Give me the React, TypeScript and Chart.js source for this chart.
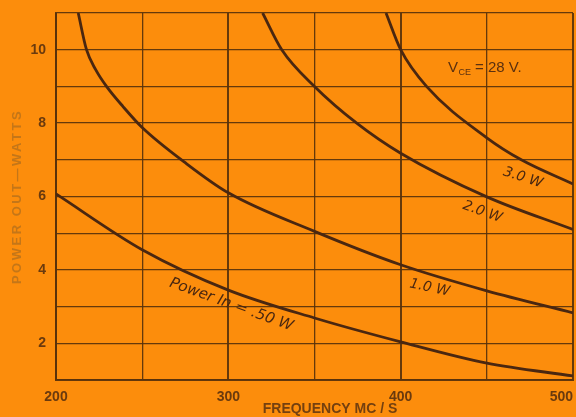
import React, { useEffect, useRef } from 'react';
import { Chart, registerables } from 'chart.js';

Chart.register(...registerables);

// ---- data ----
const freqHalf = [200, 250, 300, 350, 400, 450, 500];
const powerHalf = [6.07, 4.55, 3.45, 2.69, 2.04, 1.46, 1.11];

const freqOne = [212.9, 217.7, 223.1, 229.3, 238.9, 250, 275, 300, 350, 400, 450, 500];
const powerOne = [11, 10, 9.45, 9.0, 8.45, 7.88, 6.92, 6.1, 5.05, 4.14, 3.43, 2.83];

const freqTwo = [319.9, 331, 350, 374.5, 400, 450, 500];
const powerTwo = [11, 10, 9.0, 8.0, 7.18, 5.99, 5.1];

const freqThree = [391.5, 400, 415, 450, 470, 500];
const powerThree = [11, 10, 9.0, 7.6, 7.0, 6.34];

const xTickLabels = [200, 300, 400, 500];
const yTickLabels = [2, 4, 6, 8, 10];
const curveLabels = ['Power In = .50 W', '1.0 W', '2.0 W', '3.0 W'];
const xTitle = 'FREQUENCY MC / S';
const yTitle = 'POWER OUT\u2014WATTS';
const vceMain = 'V';
const vceSub = 'CE';
const vceRest = '= 28 V.';

// ---- styles ----
const BG = '#FC8D0C';
const GRID = 'rgba(88, 50, 12, 0.92)';
const CURVE = '#4A2710';
const TICK = '#6A3A0E';
const FADED = '#C47618';

const toPoints = (xs: number[], ys: number[]) => xs.map((x, i) => ({ x, y: ys[i] }));

const annotate = {
  id: 'annotate',
  afterDraw(chart: any) {
    const ctx = chart.ctx as CanvasRenderingContext2D;
    const xs = chart.scales.x;
    const ys = chart.scales.y;
    const area = chart.chartArea;
    ctx.save();

    // x tick labels
    ctx.fillStyle = TICK;
    ctx.font = 'bold 14px "Liberation Sans", sans-serif';
    ctx.textBaseline = 'middle';
    xTickLabels.forEach((v) => {
      const label = String(v);
      const px = xs.getPixelForValue(v);
      const w = ctx.measureText(label).width;
      if (px + w / 2 > chart.width - 1) {
        ctx.textAlign = 'right';
        ctx.fillText(label, area.right, area.bottom + 17);
      } else {
        ctx.textAlign = 'center';
        ctx.fillText(label, px, area.bottom + 17);
      }
    });

    // y tick labels
    ctx.textAlign = 'right';
    yTickLabels.forEach((v) => {
      ctx.fillText(String(v), area.left - 10, ys.getPixelForValue(v));
    });

    // x title
    ctx.textAlign = 'center';
    ctx.font = 'bold 14px "Liberation Sans", sans-serif';
    ctx.fillStyle = '#74400F';
    ctx.fillText(xTitle, xs.getPixelForValue(359), area.bottom + 29);

    // y title (rotated)
    ctx.save();
    ctx.translate(17, ys.getPixelForValue(6.0));
    ctx.rotate(-Math.PI / 2);
    ctx.fillStyle = FADED;
    ctx.font = 'bold 13px "Liberation Sans", sans-serif';
    (ctx as any).letterSpacing = '2.5px';
    ctx.textAlign = 'center';
    ctx.textBaseline = 'middle';
    ctx.fillText(yTitle, 0, 0);
    ctx.restore();

    // curve labels (rotated along the curves)
    const labelPos = [
      { f: 301.7, p: 3.05, a: 20 },
      { f: 416.8, p: 3.51, a: 12 },
      { f: 447.4, p: 5.58, a: 20 },
      { f: 471, p: 6.51, a: 18 },
    ];
    ctx.fillStyle = CURVE;
    ctx.textAlign = 'center';
    ctx.textBaseline = 'middle';
    curveLabels.forEach((t, i) => {
      const lp = labelPos[i];
      ctx.font = i === 0 ? 'italic 15px "DejaVu Sans", sans-serif' : 'italic 14px "DejaVu Sans", sans-serif';
      ctx.save();
      ctx.translate(xs.getPixelForValue(lp.f), ys.getPixelForValue(lp.p));
      ctx.rotate((lp.a * Math.PI) / 180);
      ctx.fillText(t, 0, 0);
      ctx.restore();
    });

    // V_CE annotation
    let x = xs.getPixelForValue(427.5);
    const base = ys.getPixelForValue(9.38);
    ctx.textAlign = 'left';
    ctx.textBaseline = 'alphabetic';
    ctx.fillStyle = '#5A3010';
    ctx.font = '15px "Liberation Sans", sans-serif';
    ctx.fillText(vceMain, x, base);
    x += ctx.measureText(vceMain).width + 0.5;
    ctx.font = '9px "Liberation Sans", sans-serif';
    ctx.fillText(vceSub, x, base + 3);
    x += ctx.measureText(vceSub).width + 4;
    ctx.font = '15px "Liberation Sans", sans-serif';
    ctx.fillText(vceRest, x, base);

    ctx.restore();
  },
};

export default function App() {
  const ref = useRef<HTMLCanvasElement | null>(null);

  useEffect(() => {
    document.body.style.margin = '0';
    if (!ref.current) return;
    const lineStyle = {
      borderColor: CURVE,
      borderWidth: 2.8,
      pointRadius: 0,
      fill: false,
      cubicInterpolationMode: 'monotone' as const,
    };
    const chart = new Chart(ref.current, {
      type: 'line',
      data: {
        datasets: [
          { label: curveLabels[0], data: toPoints(freqHalf, powerHalf), ...lineStyle },
          { label: curveLabels[1], data: toPoints(freqOne, powerOne), ...lineStyle },
          { label: curveLabels[2], data: toPoints(freqTwo, powerTwo), ...lineStyle },
          { label: curveLabels[3], data: toPoints(freqThree, powerThree), ...lineStyle },
        ],
      },
      options: {
        animation: false,
        responsive: true,
        maintainAspectRatio: false,
        layout: { padding: { top: 13, right: 3, left: 0, bottom: 0 } },
        plugins: { legend: { display: false }, tooltip: { enabled: false } },
        scales: {
          x: {
            type: 'linear',
            min: 200,
            max: 500,
            ticks: { display: false, stepSize: 50 },
            grid: {
              color: GRID,
              lineWidth: (c: any) => (c.tick && c.tick.value % 100 === 0 ? 2 : 1.3),
              drawTicks: false,
            },
            border: { color: GRID, width: 2 },
            afterFit: (s: any) => {
              s.height = 37;
            },
          },
          y: {
            type: 'linear',
            min: 1,
            max: 11,
            ticks: { display: false, stepSize: 1 },
            grid: { color: GRID, lineWidth: 1.3, drawTicks: false },
            border: { color: GRID, width: 2 },
            afterFit: (s: any) => {
              s.width = 56;
            },
          },
        },
      },
      plugins: [annotate],
    });
    return () => chart.destroy();
  }, []);

  return (
    <div
      style={{
        position: 'fixed',
        left: 0,
        top: 0,
        width: 576,
        height: 417,
        background: BG,
        overflow: 'hidden',
      }}
    >
      <canvas ref={ref} />
    </div>
  );
}
